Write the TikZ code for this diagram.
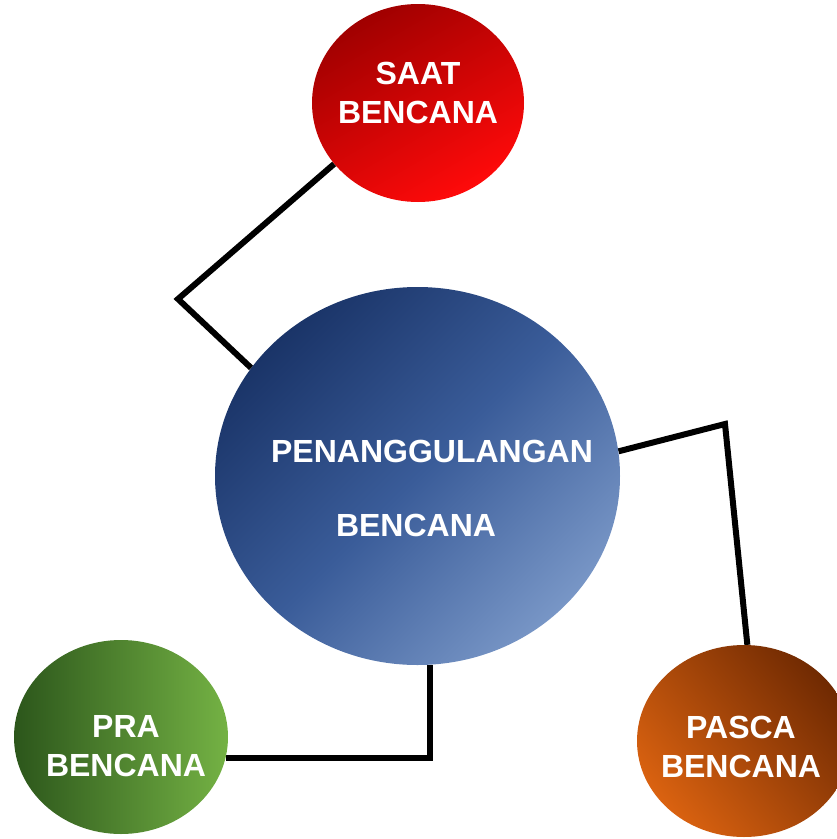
\documentclass[tikz,border=0pt]{standalone}
\usepackage{fontspec}
\setmainfont{Liberation Sans}
\usetikzlibrary{shapes.geometric,backgrounds}
\definecolor{redDark}{HTML}{A00000}
\definecolor{redLight}{HTML}{FF0A0A}
\definecolor{blueDark}{HTML}{1A3468}
\definecolor{blueMid}{HTML}{3A5C99}
\definecolor{blueLight}{HTML}{7896C6}
\definecolor{greenDark}{HTML}{2C561B}
\definecolor{greenLight}{HTML}{74B244}
\definecolor{orangeDark}{HTML}{702A02}
\definecolor{orangeLight}{HTML}{DA6210}
\begin{document}
\begin{tikzpicture}[x=1pt,y=-1pt,
  ball/.style={ellipse, inner sep=0pt, draw=none},
  lab/.style={text=white, font=\bfseries\fontsize{32}{39}\selectfont, align=center, inner sep=0pt},
  conn/.style={line width=6pt, draw=black, line join=miter, line cap=butt}]
\useasboundingbox (0,0) rectangle (837,839);
\clip (0,0) rectangle (837,839);

\node[ball, minimum width=212pt, minimum height=198pt,
      top color=redDark, bottom color=redLight, shading angle=30] (saat) at (418,103) {};
\node[ball, minimum width=405pt, minimum height=378pt,
      top color=blueDark, bottom color=blueLight, middle color=blueMid, shading angle=45] (pusat) at (417.5,476) {};
\node[ball, minimum width=214pt, minimum height=194pt,
      left color=greenDark, right color=greenLight] (pra) at (121,737) {};
\node[ball, minimum width=214pt, minimum height=192pt,
      top color=orangeDark, bottom color=orangeLight, shading angle=-50] (pasca) at (744,741) {};

\node[lab] (tsaat) at (418,92.5) {SAAT\\BENCANA};
\node[lab] (tpra) at (126,746.5) {PRA\\BENCANA};
\node[lab] (tpasca) at (741,746.5) {PASCA\\BENCANA};
\node[lab] (tpusat1) at (432,451) {PENANGGULANGAN};
\node[lab] (tpusat2) at (416,525) {BENCANA};

\coordinate (k1) at (178,299);
\coordinate (k2) at (725,424);
\coordinate (k3) at (430,758);

\begin{pgfonlayer}{background}
\draw[conn] (saat.216) -- (k1) -- (pusat.147);
\draw[conn] (pusat.7) -- (k2) -- (pasca.88);
\draw[conn] (k3 |- pusat.274) -- (k3) -- (pra.-11 |- k3);
\end{pgfonlayer}
\end{tikzpicture}
\end{document}
